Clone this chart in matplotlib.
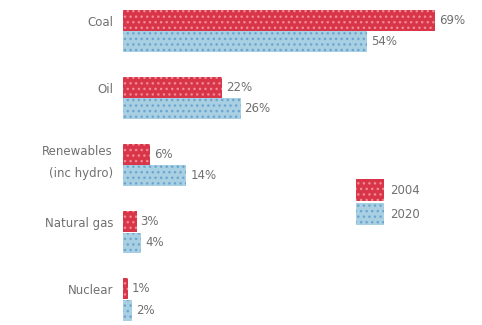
import matplotlib
matplotlib.use("Agg")
import matplotlib.pyplot as plt
from matplotlib.patches import Patch

# fuel share data
categories = ["Coal", "Oil", "Renewables\n(inc hydro)", "Natural gas", "Nuclear"]
share_2004 = [69, 22, 6, 3, 1]
share_2020 = [54, 26, 14, 4, 2]
series_names = ["2004", "2020"]

RED = "#d93549"
RED_DOT = "#f08a95"
BLUE = "#a9cfe2"
BLUE_DOT = "#6aa6cf"
TXT = "#707070"

plt.rcParams["font.family"] = ["DejaVu Sans"]
plt.rcParams["hatch.linewidth"] = 1.0

fig = plt.figure(figsize=(4.82, 3.25), dpi=100)
ax = fig.add_axes([123 / 482, 0, 1 - 123 / 482, 1])

ys = list(range(len(categories)))
h = 0.31
for i, y in enumerate(ys):
    ax.barh(y - h / 2, share_2004[i], height=h, color=RED, edgecolor=RED_DOT,
            hatch="...", linewidth=0)
    ax.barh(y + h / 2 + 0.01, share_2020[i], height=h, color=BLUE, edgecolor=BLUE_DOT,
            hatch="...", linewidth=0)
    ax.text(share_2004[i] + 0.9, y - h / 2, f"{share_2004[i]}%", va="center",
            ha="left", fontsize=8.5, color=TXT)
    ax.text(share_2020[i] + 0.9, y + h / 2 + 0.01, f"{share_2020[i]}%", va="center",
            ha="left", fontsize=8.5, color=TXT)
    ax.text(-2.2, y - 0.12 if i != 2 else y - 0.03, categories[i], va="center", ha="right",
            fontsize=8.5, color=TXT, linespacing=1.9)

ax.set_xlim(0, 359 / 4.52)
ax.set_ylim(4.387, -0.4545)
ax.axis("off")

handles = [Patch(facecolor=RED, edgecolor=RED_DOT, hatch="...", linewidth=0),
           Patch(facecolor=BLUE, edgecolor=BLUE_DOT, hatch="...", linewidth=0)]
leg = fig.legend(handles, series_names, loc="upper left",
                 bbox_to_anchor=(356 / 482, 1 - 179 / 325), frameon=False,
                 fontsize=8.5, handlelength=2.4, handleheight=2.5,
                 labelspacing=0.18, handletextpad=0.5, borderpad=0, borderaxespad=0)
for t in leg.get_texts():
    t.set_color(TXT)

fig.savefig("out.png", dpi=100)
